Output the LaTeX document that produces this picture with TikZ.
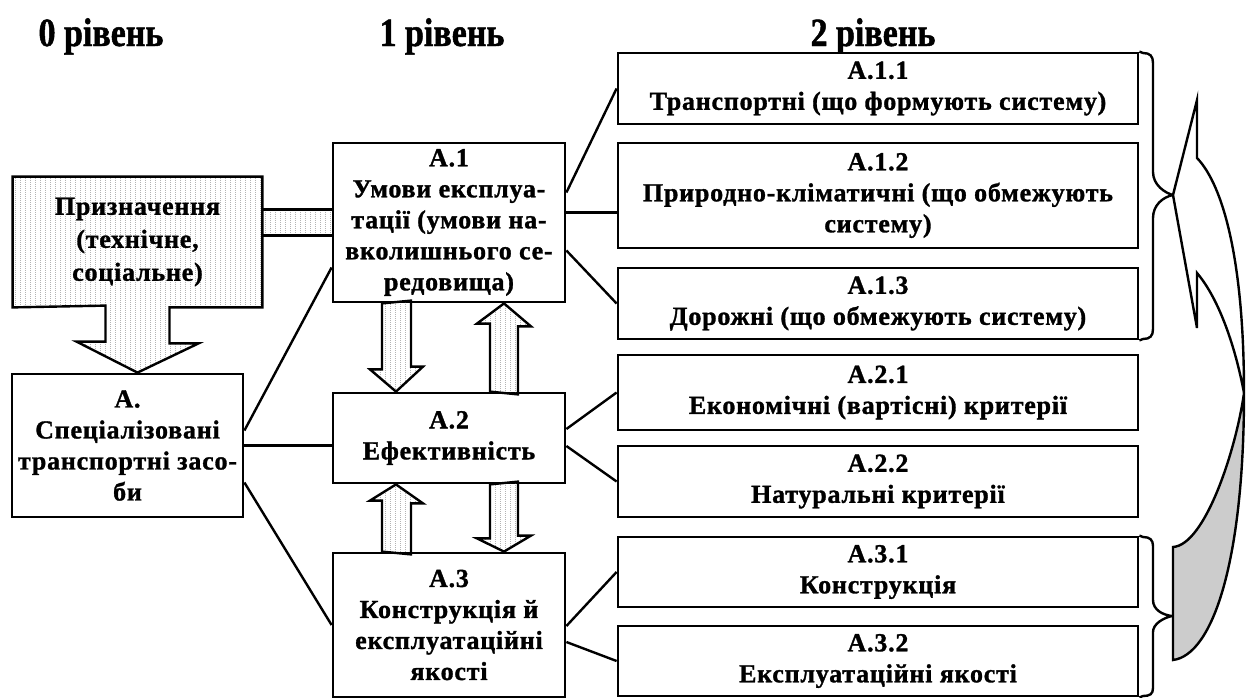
\documentclass[tikz,border=0pt]{standalone}
\usepackage{fontspec}
\setmainfont{Liberation Serif}
\newfontfamily\boxfont{Liberation Serif Bold}[LetterSpace=3, FakeBold=1.2]
\newfontfamily\hdrfont{Liberation Serif Bold}[FakeStretch=0.85, FakeBold=1.2]
\usetikzlibrary{positioning,calc,backgrounds,patterns.meta}

\tikzdeclarepattern{
  name=vdots,
  type=uncolored,
  bounding box={(0pt,0pt) and (2.5pt,1pt)},
  tile size={(2.5pt,1pt)},
  code={\pgfpathrectangle{\pgfpointorigin}{\pgfpoint{0.35pt}{0.45pt}}\pgfusepath{fill}}
}

\begin{document}
\begin{tikzpicture}[
    x=0.5pt, y=-0.5pt,
    box/.style={draw, line width=1.4pt, fill=white, align=center, inner sep=1pt,
                font=\boxfont\fontsize{13}{15.5}\selectfont},
    sub/.style={box, minimum width=260pt},
    mid/.style={box, minimum width=116pt},
    level/.style={font=\hdrfont\fontsize{20}{24}\selectfont, anchor=base},
    link/.style={line width=1.2pt},
    dotfill/.style={pattern={vdots}, pattern color=black!70},
    hollow/.style={draw, line width=1.2pt, dotfill}
]
\useasboundingbox (0,0) rectangle (1248,697);

% ============================
% Level headers
% ============================
\node[level] (l0) at (101,46) {0 рівень};
\node[level] (l1) at (442,46) {1 рівень};
\node[level] (l2) at (873,46) {2 рівень};

% ============================
% Level 0
% ============================
\node[box, minimum width=115.5pt, minimum height=71.5pt] (a0) at (127.5,445.5)
    {А.\\Спеціалізовані\\транспортні засо-\\би};
\node[align=center, minimum width=124.5pt, minimum height=65pt,
      font=\boxfont\fontsize{13}{16.5}\selectfont] (purpose) at (137.5,242)
    {Призначення\\(технічне,\\соціальне)};

% ============================
% Level 1
% ============================
\node[mid, minimum height=79.5pt] (a1) at (449,222.5)
    {А.1\\Умови експлуа-\\тації (умови на-\\вколишнього се-\\редовища)};
\node[mid, minimum height=45pt] (a2) at (449,438) {А.2\\Ефективність};
\node[mid, minimum height=72pt] (a3) at (449,625)
    {А.3\\Конструкція й\\експлуатаційні\\якості};

% ============================
% Level 2
% ============================
\node[sub, minimum height=35.5pt] (a11) at (878,88.5)
    {А.1.1\\Транспортні (що формують систему)};
\node[sub, minimum height=52.5pt] (a12) at (878,195.5)
    {А.1.2\\Природно-кліматичні (що обмежують\\систему)};
\node[sub, minimum height=35.5pt] (a13) at (878,303.5)
    {А.1.3\\Дорожні (що обмежують систему)};
\node[sub, minimum height=37.5pt] (a21) at (878,392.5)
    {А.2.1\\Економічні (вартісні) критерії};
\node[sub, minimum height=35.5pt] (a22) at (878,481.5)
    {А.2.2\\Натуральні критерії};
\node[sub, minimum height=35pt] (a31) at (878,572)
    {А.3.1\\Конструкція};
\node[sub, minimum height=35pt] (a32) at (878,661)
    {А.3.2\\Експлуатаційні якості};

% Purpose block arrow and its bridge to A.1
\begin{scope}[on background layer]
    \draw[hollow] (purpose.north west) -- (purpose.north east) -- (purpose.south east)
        -- ($(purpose.south)+(32,0)$) -- ++(0,36) -- ++(29,0) -- (purpose.south |- a0.north)
        -- ++(-61,-31) -- ++(29,0) -- ++(0,-36) -- (purpose.south west) -- cycle;
    \coordinate (b1) at ($(a1.west)+(0,-13)$);
    \coordinate (b2) at ($(a1.west)+(0,13)$);
    \fill[dotfill] (purpose.east |- b1) rectangle (b2);
    \draw[link] (purpose.east |- b1) -- (b1) (purpose.east |- b2) -- (b2);
\end{scope}

% Block arrows between level 1 boxes
\draw[hollow] ($(a1.south)+(-67,0)$) -- ++(0,66) -- ++(-12,0) -- ($(a2.north)+(-53,0)$)
    -- ++(27,-25) -- ++(-12,0) -- ++(0,-66) -- cycle;
\draw[hollow] ($(a2.north)+(41,0)$) -- ++(0,-68) -- ++(-13,0) -- ($(a1.south)+(55,0)$)
    -- ++(27,23) -- ++(-13,0) -- ++(0,68) -- cycle;
\draw[hollow] ($(a3.north)+(-67,0)$) -- ++(0,-51) -- ++(-12,0) -- ($(a2.south)+(-53,0)$)
    -- ++(27,19) -- ++(-12,0) -- ++(0,51) -- cycle;
\draw[hollow] ($(a2.south)+(41,0)$) -- ++(0,54) -- ++(-13,0) -- ($(a3.north)+(55,0)$)
    -- ++(27,-16) -- ++(-13,0) -- ++(0,-54) -- cycle;

% Links
\draw[link] ($(a0.east)+(0,-15)$) -- ($(a1.west)+(0,45)$);
\draw[link] (a0.east) -- (a0.east -| a2.west);
\draw[link] ($(a0.east)+(0,37)$) -- (a3.west);
\coordinate (c12) at ($(a1.east)+(0,-10)$);
\draw[link] ($(a1.east)+(0,-30)$) -- (a11.west);
\draw[link] (c12) -- (c12 -| a12.west);
\draw[link] ($(a1.east)+(0,28)$) -- (a13.west);
\draw[link] ($(a2.east)+(0,-9)$) -- (a21.west);
\draw[link] ($(a2.east)+(0,8)$) -- (a22.west);
\draw[link] ($(a3.east)+(0,1)$) -- (a31.west);
\draw[link] ($(a3.east)+(0,17)$) -- (a32.west);

% Braces
\draw[link] (a11.north east) -- (1143,53) .. controls (1150,53) and (1153,56) .. (1153,63)
    -- (1153,172) .. controls (1153,185) and (1165,193) .. (1173,195)
    .. controls (1163,197) and (1153,205) .. (1153,218)
    -- (1153,329) .. controls (1153,336) and (1150,339) .. (1143,339) -- (a13.south east);
\draw[link] (a31.north east) -- (1143,537) .. controls (1150,537) and (1153,540) .. (1153,546)
    -- (1153,600) .. controls (1153,610) and (1163,615) .. (1172,616)
    .. controls (1163,618) and (1153,624) .. (1153,632)
    -- (1153,688) .. controls (1153,694) and (1150,696) .. (1143,696) -- (a32.south east);

% Curved return arrow
\draw[link, fill=black!20] (1173,547) -- (1173,660)
    .. controls (1213,655) and (1244,560) .. (1244,393)
    .. controls (1236,450) and (1205,545) .. (1173,547) -- cycle;
\draw[link, fill=white] (1173,195) -- (1197,100) -- (1197,158)
    .. controls (1223,185) and (1244,260) .. (1244,393)
    .. controls (1236,350) and (1220,300) .. (1197,273)
    -- (1197,328) -- cycle;

\end{tikzpicture}
\end{document}
